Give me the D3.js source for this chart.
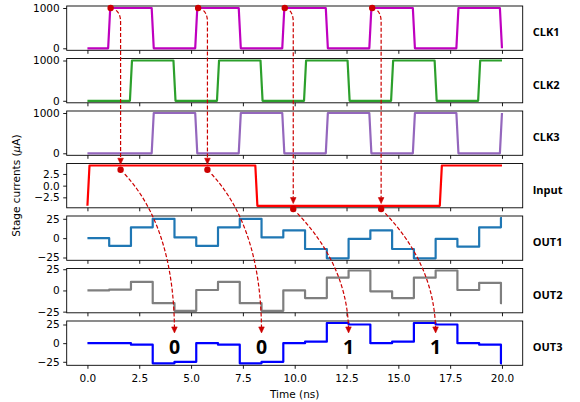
<!DOCTYPE html>
<html>
<head>
<meta charset="utf-8">
<script src="https://cdn.jsdelivr.net/npm/d3@7"></script>
<style>
body{margin:0;background:#fff;}
svg{display:block;}
</style>
</head>
<body>
<svg id="chart" width="580" height="402"></svg>
<script>
// stage names, top to bottom
var panelNames=["CLK1","CLK2","CLK3","Input","OUT1","OUT2","OUT3"];

// clock and input waveforms, [time (ns), current]
var clk1=[[0,0],[1.0,0],[1.1,1000],[3.1,1000],[3.2,0],[5.2,0],[5.3,1000],[7.3,1000],[7.4,0],[9.4,0],[9.5,1000],
  [11.5,1000],[11.6,0],[13.6,0],[13.7,1000],[15.7,1000],[15.8,0],[17.8,0],[17.9,1000],[19.9,1000],[20,0]];
var clk2=[[0,0],[2.05,0],[2.15,1000],[4.15,1000],[4.25,0],[6.25,0],[6.35,1000],[8.35,1000],[8.45,0],[10.45,0],
  [10.55,1000],[12.55,1000],[12.65,0],[14.65,0],[14.75,1000],[16.75,1000],[16.85,0],[18.85,0],[18.95,1000],[20,1000]];
var clk3=[[0,0],[3.1,0],[3.2,1000],[5.2,1000],[5.3,0],[7.3,0],[7.4,1000],[9.4,1000],[9.5,0],[11.5,0],[11.6,1000],
  [13.6,1000],[13.7,0],[15.7,0],[15.8,1000],[17.8,1000],[17.9,0],[19.9,0],[20,1000]];
var inputWave=[[0,-4.3],[0.1,4.3],[8.1,4.3],[8.2,-4.3],[17.0,-4.3],[17.1,4.3],[20,4.3]];

// stage outputs are piecewise constant, changing at these times
var stepTimes=[0,1.05,2.1,3.15,4.2,5.25,6.3,7.35,8.4,9.45,10.5,11.55,12.6,13.65,14.7,15.75,16.8,17.85,18.9,19.95];
var out1=[0,-10,14,25,1,-10,14,25,1,10,-14,-26,-1,10,-14,-26,-1,-11,14,26];
var out2=[0,1,10,-15,-24,0.5,10,-15,-24,0,-9,15,23.5,-1,-9,15,23.5,0.5,9,-15];
var out3=[0,0,-2,-27,-25,0,-2,-27,-25,0,2,27,25,0,2,27,25,0,-2,-27];

var xTicks=[0,2.5,5,7.5,10,12.5,15,17.5,20];
var clkTicks=[0,1000];
var inputTicks=[-2.5,0,2.5];
var outTicks=[-25,0,25];

// annotation points
var clkMarks=[1.12,5.34,9.52,13.74];            // dots on CLK1 (value 1000)
var inputMarks=[[1.6,3.4],[5.79,3.4],[9.93,-5],[14.17,-5]];
var bitTimes=[4.2,8.4,12.6,16.8];
var bitLabels=["0","0","1","1"];

function steps(vals){
  var pts=stepTimes.map(function(t,i){return [t,vals[i]];});
  pts.push([20,vals[vals.length-1]]);
  return pts;
}

var series=[clk1,clk2,clk3,inputWave,steps(out1),steps(out2),steps(out3)];
var colors=["#bf00bf","#2ca02c","#9467bd","#ff0000","#1f77b4","#7f7f7f","#0000ff"];
var tickSets=[clkTicks,clkTicks,clkTicks,inputTicks,outTicks,outTicks,outTicks];
var fmtInt=d3.format("d"), fmt1=d3.format(".1f");
var tickFmts=[fmtInt,fmtInt,fmtInt,fmt1,fmtInt,fmtInt,fmtInt];

var left=66.7, right=522.7, top0=6, stepY=52.5, ph=44.3;
var tickFont="'DejaVu Sans', sans-serif";
var fs=10.5;

var svg=d3.select("#chart");

var tExt=d3.extent(series[0],function(d){return d[0];});
var tPad=(tExt[1]-tExt[0])*0.05;
var x=d3.scaleLinear().domain([tExt[0]-tPad,tExt[1]+tPad]).range([left,right]);

var yScales=[];
series.forEach(function(data,i){
  var top=top0+i*stepY;
  var ext=d3.extent(data,function(d){return d[1];});
  var pad=(ext[1]-ext[0])*0.05;
  var y=d3.scaleLinear().domain([ext[0]-pad,ext[1]+pad]).range([top+ph,top]);
  yScales.push(y);

  var g=svg.append("g");
  svg.append("clipPath").attr("id","clip"+i)
    .append("rect").attr("x",left).attr("y",top).attr("width",right-left).attr("height",ph);

  var line=d3.line()
    .x(function(d){return x(d[0]);})
    .y(function(d){return y(d[1]);});
  if(i>=4) line.curve(d3.curveStepAfter);

  g.append("path")
    .datum(data)
    .attr("clip-path","url(#clip"+i+")")
    .attr("d",line)
    .attr("fill","none")
    .attr("stroke",colors[i])
    .attr("stroke-width",2.2)
    .attr("stroke-linejoin","round");

  // y axis
  var ya=g.append("g").attr("transform","translate("+left+",0)")
    .call(d3.axisLeft(y).tickValues(tickSets[i]).tickFormat(tickFmts[i]).tickSize(3.5).tickPadding(3.5));
  ya.select(".domain").remove();

  // x axis, labels only on the bottom panel
  var xa=g.append("g").attr("transform","translate(0,"+(top+ph)+")")
    .call(d3.axisBottom(x).tickValues(xTicks).tickSize(3.5)
      .tickFormat(i==series.length-1?fmt1:function(){return "";}));
  xa.select(".domain").remove();
  xa.selectAll("text").attr("y",17.2).attr("dy",null);

  g.selectAll(".tick line").attr("stroke","#000").attr("stroke-width",0.9);
  g.selectAll(".tick text").attr("fill","#000").style("font-family",tickFont).style("font-size",fs+"px");

  g.append("rect")
    .attr("x",left).attr("y",top).attr("width",right-left).attr("height",ph)
    .attr("fill","none").attr("stroke","#000").attr("stroke-width",0.9);

  g.append("text")
    .attr("x",right+10).attr("y",top+ph/2+7.9)
    .style("font-family","'Open Sans', sans-serif").style("font-weight","700").style("font-size","11px")
    .attr("fill","#000")
    .text(panelNames[i]);
});

// axis titles
svg.append("text")
  .attr("x",(left+right)/2).attr("y",397.5)
  .attr("text-anchor","middle")
  .style("font-family",tickFont).style("font-size",fs+"px")
  .text("Time (ns)");

var yl=svg.append("text")
  .attr("transform","translate(19.5,"+(top0+(6*stepY+ph)/2)+") rotate(-90)")
  .attr("text-anchor","middle")
  .style("font-family",tickFont).style("font-size",fs+"px");
yl.append("tspan").text("Stage currents (");
yl.append("tspan").style("font-style","italic").text("\u03bc");
yl.append("tspan").text("A)");

// ---- annotations ----
var red="#cc0000";
var ann=svg.append("g");

function quad(p0,c,p1,n){
  var pts=[];
  for(var k=0;k<=n;k++){
    var s=k/n, a=(1-s)*(1-s), b=2*s*(1-s), e=s*s;
    pts.push([a*p0[0]+b*c[0]+e*p1[0], a*p0[1]+b*c[1]+e*p1[1]]);
  }
  return pts;
}

function lengths(pts){
  var L=[0];
  for(var i=1;i<pts.length;i++)
    L.push(L[i-1]+Math.hypot(pts[i][0]-pts[i-1][0],pts[i][1]-pts[i-1][1]));
  return L;
}
function pointAt(pts,L,s){
  for(var i=1;i<pts.length;i++){
    if(L[i]>=s){
      var f=(s-L[i-1])/((L[i]-L[i-1])||1);
      return [pts[i-1][0]+f*(pts[i][0]-pts[i-1][0]), pts[i-1][1]+f*(pts[i][1]-pts[i-1][1])];
    }
  }
  return pts[pts.length-1];
}

function arrow(pts,shrinkA,shrinkB){
  var headLen=6, halfW=2.8;
  var L=lengths(pts), total=L[L.length-1];
  var sEnd=total-shrinkB-headLen;
  var line=[pointAt(pts,L,shrinkA)];
  for(var i=0;i<pts.length;i++) if(L[i]>shrinkA && L[i]<sEnd) line.push(pts[i]);
  var base=pointAt(pts,L,sEnd);
  line.push(base);
  var tip=pointAt(pts,L,total-shrinkB);

  ann.append("path")
    .attr("d",d3.line()(line))
    .attr("fill","none").attr("stroke",red).attr("stroke-width",1.2)
    .attr("stroke-dasharray","4,2");

  var dx=tip[0]-base[0], dy=tip[1]-base[1], n=Math.hypot(dx,dy)||1;
  var px=-dy/n*halfW, py=dx/n*halfW;
  ann.append("path")
    .attr("d","M"+tip[0]+","+tip[1]+"L"+(base[0]+px)+","+(base[1]+py)+"L"+(base[0]-px)+","+(base[1]-py)+"Z")
    .attr("fill",red).attr("stroke",red).attr("stroke-width",0.6);
}

var yClk=yScales[0], yIn=yScales[3], yOut=yScales[6];

clkMarks.forEach(function(t,i){
  var p0=[x(t),yClk(1000)];
  var p1=[x(inputMarks[i][0]),yIn(inputMarks[i][1])];
  // short bend, then straight down
  var knee=[p1[0],p0[1]+14];
  var pts=quad(p0,[p1[0],p0[1]+2],knee,16);
  pts.push(p1);
  arrow(pts,6,5.5);

  // from input dot down to the output bit
  var p2=[x(bitTimes[i]),yOut(13.7)];
  var c=[p2[0],p1[1]+(p2[0]-p1[0])];
  arrow(quad(p1,c,p2,60),6,0);
});

ann.selectAll("circle.clk").data(clkMarks).enter().append("circle")
  .attr("cx",function(d){return x(d);}).attr("cy",yClk(1000)).attr("r",3.2).attr("fill",red);
ann.selectAll("circle.inp").data(inputMarks).enter().append("circle")
  .attr("cx",function(d){return x(d[0]);}).attr("cy",function(d){return yIn(d[1]);}).attr("r",3.2).attr("fill",red);

ann.selectAll("text.bit").data(bitTimes).enter().append("text")
  .attr("x",function(d){return x(d);})
  .attr("y",yOut(-4.5))
  .attr("dy","0.36em")
  .attr("text-anchor","middle")
  .style("font-family","'Open Sans', sans-serif").style("font-weight","700").style("font-size","19.5px")
  .attr("fill","#000")
  .text(function(d,i){return bitLabels[i];});
</script>
</body>
</html>
